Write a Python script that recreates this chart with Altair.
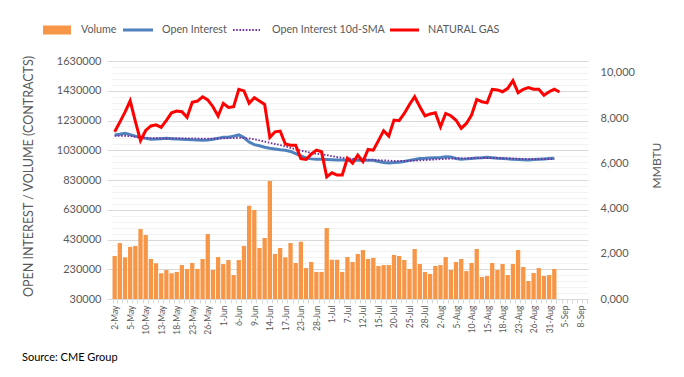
import json
import altair as alt
import pandas as pd

# ---------------- data ----------------
dates = [
    "2-May", "3-May", "4-May", "5-May", "6-May", "9-May", "10-May", "11-May", "12-May", "13-May",
    "16-May", "17-May", "18-May", "19-May", "20-May", "23-May", "24-May", "25-May", "26-May", "27-May",
    "31-May",
    "1-Jun", "2-Jun", "3-Jun", "6-Jun", "7-Jun", "8-Jun", "9-Jun", "10-Jun", "13-Jun", "14-Jun",
    "15-Jun", "16-Jun", "17-Jun", "21-Jun", "22-Jun", "23-Jun", "24-Jun", "27-Jun", "28-Jun", "29-Jun",
    "30-Jun",
    "1-Jul", "5-Jul", "6-Jul", "7-Jul", "8-Jul", "11-Jul", "12-Jul", "13-Jul", "14-Jul", "15-Jul",
    "18-Jul", "19-Jul", "20-Jul", "21-Jul", "22-Jul", "25-Jul", "26-Jul", "27-Jul", "28-Jul", "29-Jul",
    "1-Aug", "2-Aug", "3-Aug", "4-Aug", "5-Aug", "8-Aug", "9-Aug", "10-Aug", "11-Aug", "12-Aug",
    "15-Aug", "16-Aug", "17-Aug", "18-Aug", "19-Aug", "22-Aug", "23-Aug", "24-Aug", "25-Aug", "26-Aug",
    "29-Aug", "30-Aug", "31-Aug",
    "1-Sep", "2-Sep", "5-Sep", "6-Sep", "7-Sep", "8-Sep", "9-Sep",
]

volume = [
    319000, 406000, 310000, 380000, 386000, 500000, 460000, 299000, 270000, 203000,
    225000, 203000, 212000, 258000, 232000, 272000, 232000, 299000, 467000, 225000,
    312000, 265000, 292000, 191000, 292000, 386000, 657000, 628000, 373000, 440000,
    823000, 333000, 373000, 310000, 406000, 272000, 415000, 238000, 279000, 212000,
    212000, 507000, 294000, 294000, 212000, 312000, 279000, 333000, 359000, 299000,
    306000, 252000, 258000, 258000, 326000, 319000, 292000, 232000, 366000, 265000,
    212000, 198000, 252000, 258000, 312000, 225000, 279000, 299000, 218000, 272000,
    366000, 178000, 185000, 272000, 225000, 265000, 191000, 265000, 359000, 245000,
    151000, 205000, 238000, 185000, 191000, 232000,
]

open_interest = [
    1133000, 1138000, 1144000, 1135000, 1125000, 1117000, 1110000, 1104000, 1106000, 1108000,
    1110000, 1108000, 1106000, 1104000, 1102000, 1100000, 1099000, 1098000, 1099000, 1104000,
    1110000, 1117000, 1117000, 1125000, 1133000, 1115000, 1085000, 1068000, 1060000, 1050000,
    1043000, 1038000, 1033000, 1030000, 1022000, 1008000, 992000, 978000, 972000, 970000,
    969000, 968000, 966000, 964000, 964000, 963000, 963000, 962000, 963000, 962000,
    962000, 955000, 948000, 945000, 947000, 950000, 955000, 962000, 968000, 975000,
    976000, 978000, 980000, 982000, 987000, 985000, 975000, 970000, 972000, 975000,
    978000, 980000, 983000, 980000, 977000, 975000, 972000, 970000, 968000, 966000,
    964000, 968000, 970000, 972000, 974000, 976000,
]

oi_sma_10d = [
    1126000, 1126000, 1126000, 1125000, 1120000, 1116000, 1114000, 1112000, 1111000, 1110000,
    1110000, 1110000, 1110000, 1110000, 1110000, 1110000, 1109000, 1108000, 1108000, 1108000,
    1109000, 1110000, 1111000, 1112000, 1113000, 1112000, 1109000, 1104000, 1096000, 1088000,
    1080000, 1072000, 1065000, 1056000, 1046000, 1036000, 1028000, 1020000, 1012000, 1006000,
    1002000, 998000, 990000, 984000, 979000, 976000, 972000, 970000, 968000, 966000,
    965000, 963000, 962000, 960000, 958000, 958000, 958000, 959000, 960000, 962000,
    964000, 966000, 968000, 970000, 972000, 974000, 975000, 976000, 976000, 976000,
    977000, 978000, 978000, 978000, 977000, 976000, 975000, 974000, 973000, 972000,
    971000, 970000, 970000, 970000, 970000, 971000,
]

natural_gas = [
    7.39, 7.82, 8.26, 8.76, 7.85, 7.00, 7.45, 7.65, 7.70, 7.59,
    7.90, 8.23, 8.31, 8.28, 8.03, 8.70, 8.75, 8.94, 8.80, 8.50,
    8.09, 8.65, 8.47, 8.50, 9.27, 9.20, 8.65, 8.90, 8.75, 8.60,
    7.14, 7.39, 7.42, 6.85, 6.80, 6.80, 6.20, 6.17, 6.40, 6.58,
    6.51, 5.40, 5.58, 5.48, 5.48, 6.22, 6.00, 6.36, 6.07, 6.61,
    6.58, 7.00, 7.44, 7.20, 7.91, 7.88, 8.20, 8.60, 8.94, 8.50,
    8.09, 8.18, 8.23, 7.61, 8.20, 8.10, 7.90, 7.54, 7.76, 8.13,
    8.82, 8.72, 8.67, 9.27, 9.24, 9.16, 9.31, 9.65, 9.12, 9.27,
    9.35, 9.27, 9.27, 9.01, 9.16, 9.27, 9.15,
]

legend_labels = ["Volume", "Open Interest", "Open Interest 10d-SMA", "NATURAL GAS"]
left_title = "OPEN INTEREST / VOLUME (CONTRACTS)"
right_title = "MMBTU"
source_text = "Source: CME Group"
right_ticks = [0, 2, 4, 6, 8, 10]

# ---------------- style ----------------
FONT = "Lato"
GRAY = "#595959"
ORANGE = "#F79646"
BLUE = "#4F81BD"
PURPLE = "#7030A0"
RED = "#FF0000"

W, H = 476, 238

df_vol = pd.DataFrame({"date": dates[:len(volume)], "volume": volume})
df_oi = pd.DataFrame({"date": dates[:len(open_interest)], "oi": open_interest,
                      "sma": oi_sma_10d})
df_ng = pd.DataFrame({"date": dates[:len(natural_gas)], "ng": natural_gas})
one = pd.DataFrame({"k": [0]})

shown = dates[::3]
x_scale = alt.Scale(domain=dates, paddingInner=0.17, paddingOuter=0.1)
x_axis = alt.Axis(
    title=None,
    labelAngle=270,
    labelExpr=f"indexof({json.dumps(shown)}, datum.value) >= 0 ? datum.value : ''",
    labelFont=FONT, labelFontSize=8.5, labelColor=GRAY, labelPadding=2,
    tickColor="#D9D9D9", tickSize=4, tickBand="extent",
    domainColor="#D9D9D9", grid=False,
)
X = alt.X("date:N", scale=x_scale, axis=x_axis, sort=None)

y_left_scale = alt.Scale(domain=[30000, 1630000], nice=False, zero=False)
major_test = "(datum.value - 30000) % 200000 == 0"
y_left_axis = alt.Axis(
    title=left_title,
    values=list(range(30000, 1630001, 40000)),
    labelExpr=f"{major_test} ? format(datum.value, 'd') : ''",
    labelFont=FONT, labelFontSize=11, labelColor=GRAY, labelPadding=6,
    gridColor={"condition": {"test": major_test, "value": "#D9D9D9"}, "value": "#F2F2F2"},
    tickColor={"condition": {"test": major_test, "value": "#D9D9D9"}, "value": "rgba(0,0,0,0)"},
    tickSize=5, domain=False,
    titleFont=FONT, titleFontSize=12.5, titleFontWeight="normal", titleColor=GRAY,
    titleAngle=270, titleX=-84, titleY=115, titleAlign="center", titleBaseline="middle",
)

bars = alt.Chart(df_vol).mark_bar(color=ORANGE).encode(
    x=X,
    y=alt.Y("volume:Q", scale=y_left_scale, axis=y_left_axis),
    y2=alt.datum(30000),
)
oi_line = alt.Chart(df_oi).mark_line(color=BLUE, strokeWidth=3).encode(
    x=X, y=alt.Y("oi:Q", scale=y_left_scale, axis=y_left_axis),
)
sma_line = alt.Chart(df_oi).mark_line(color=PURPLE, strokeWidth=1.8, strokeDash=[1.6, 1.6]).encode(
    x=X, y=alt.Y("sma:Q", scale=y_left_scale, axis=y_left_axis),
)

# legend (manual, above plot)
LY = -31
leg = [
    alt.Chart(one).mark_rect(color=ORANGE).encode(
        x=alt.value(-69), x2=alt.value(-41), y=alt.value(LY - 4.5), y2=alt.value(LY + 4.5)),
    alt.Chart(one).mark_rule(color=BLUE, strokeWidth=3).encode(
        x=alt.value(11), x2=alt.value(41), y=alt.value(LY)),
    alt.Chart(one).mark_rule(color=PURPLE, strokeWidth=1.8, strokeDash=[1.6, 1.6]).encode(
        x=alt.value(121), x2=alt.value(148), y=alt.value(LY)),
    alt.Chart(one).mark_rule(color=RED, strokeWidth=3).encode(
        x=alt.value(278), x2=alt.value(307), y=alt.value(LY)),
]
for lbl, xp in zip(legend_labels, [-31, 50, 160, 316]):
    leg.append(
        alt.Chart(one).mark_text(align="left", baseline="middle", font=FONT, fontSize=10.7,
                                 color=GRAY).encode(
            x=alt.value(xp), y=alt.value(LY), text=alt.value(lbl))
    )
source = alt.Chart(one).mark_text(align="left", baseline="middle", font=FONT, fontSize=11,
                                  color="#000000").encode(
    x=alt.value(-90), y=alt.value(297), text=alt.value(source_text))

left = alt.layer(bars, oi_line, sma_line, *leg, source)

ng_line = alt.Chart(df_ng).mark_line(color=RED, strokeWidth=3).encode(
    x=X,
    y=alt.Y("ng:Q", scale=alt.Scale(domain=[0, 10.52], nice=False, zero=False),
            axis=alt.Axis(
                orient="right", title=right_title, values=right_ticks,
                labelExpr="replace(format(datum.value, '.3f'), '.', ',')",
                labelFont=FONT, labelFontSize=11, labelColor=GRAY, labelPadding=12,
                grid=False, ticks=False, domain=False,
                titleFont=FONT, titleFontSize=12, titleFontWeight="normal", titleColor=GRAY,
                titleAngle=270, titleX=68, titleY=104, titleAlign="center",
                titleBaseline="middle",
            )),
)

chart = alt.layer(left, ng_line).resolve_scale(y="independent").properties(
    width=W, height=H,
    padding={"left": 112, "top": 61, "right": 684 - 112 - W, "bottom": 377 - 61 - H},
    autosize=alt.AutoSizeParams(type="none"),
    background="white",
).configure_view(stroke=None)

chart.save("out.html", embed_options={"renderer": "svg", "actions": False})
